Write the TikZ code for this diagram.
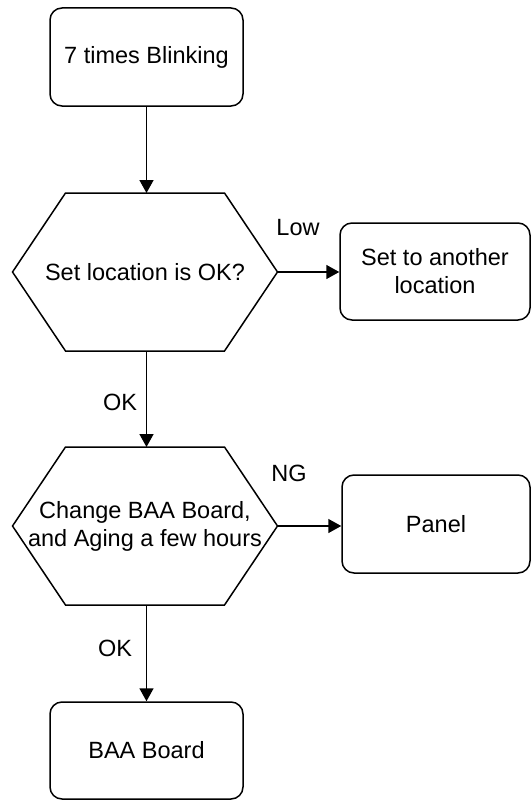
\documentclass[tikz,border=0pt]{standalone}
\usepackage{fontspec}
\setmainfont{Liberation Sans}
\usetikzlibrary{calc,arrows.meta}

\tikzset{
  every node/.style={font=\fontsize{23.5}{28}\selectfont},
  linew/.style={line width=1.5pt},
  roundbox/.style={draw, linew, rectangle, rounded corners=12pt, align=center, inner sep=0pt},
  hexarea/.style={rectangle, inner sep=0pt, outer sep=0pt, align=center,
                  minimum width=265pt, minimum height=158pt},
  flow/.style={linew, -{Triangle[width=14pt,length=13pt]}},
  lbl/.style={inner sep=0pt}
}

\begin{document}
\begin{tikzpicture}[x=1pt,y=-1pt]
  \useasboundingbox (0,0) rectangle (531,800);

  % process boxes
  \node[roundbox, minimum width=193pt, minimum height=98pt] (blink) at (146.5,57) {7 times Blinking};
  \node[roundbox, minimum width=190pt, minimum height=97pt] (moveloc) at (435,271.5) {Set to another\\location};
  \node[roundbox, minimum width=188pt, minimum height=98pt] (panel) at (436,524) {Panel};
  \node[roundbox, minimum width=193pt, minimum height=97pt] (board) at (146.5,750.5) {BAA Board};

  % decision areas (hexagons drawn over their bounding rectangles)
  \node[hexarea] (chkloc) at (145,272) {Set location is OK?};
  \node[hexarea] (chgbrd) at (145,526) {Change BAA Board,\\and Aging a few hours};

  \foreach \h in {chkloc,chgbrd}{
    \draw[linew, line join=miter]
      ($(\h.north west)+(53,0)$) -- ($(\h.north east)+(-53,0)$) -- (\h.east)
      -- ($(\h.south east)+(-53,0)$) -- ($(\h.south west)+(53,0)$) -- (\h.west) -- cycle;
  }

  % connectors
  \draw[flow] (blink.south) -- (blink.south |- chkloc.north);
  \draw[flow] (blink.south |- chkloc.south) -- (blink.south |- chgbrd.north);
  \draw[flow] (blink.south |- chgbrd.south) -- (board.north);
  \draw[flow] (chkloc.east) -- (chkloc.east -| moveloc.west);
  \draw[flow] (chgbrd.east) -- (chgbrd.east -| panel.west);

  % connector labels
  \node[lbl] (lowlbl) at (298,228) {Low};
  \node[lbl] (nglbl) at (289,473) {NG};
  \node[lbl] (oklbla) at (120,402) {OK};
  \node[lbl] (oklblb) at (115,648) {OK};
\end{tikzpicture}
\end{document}
